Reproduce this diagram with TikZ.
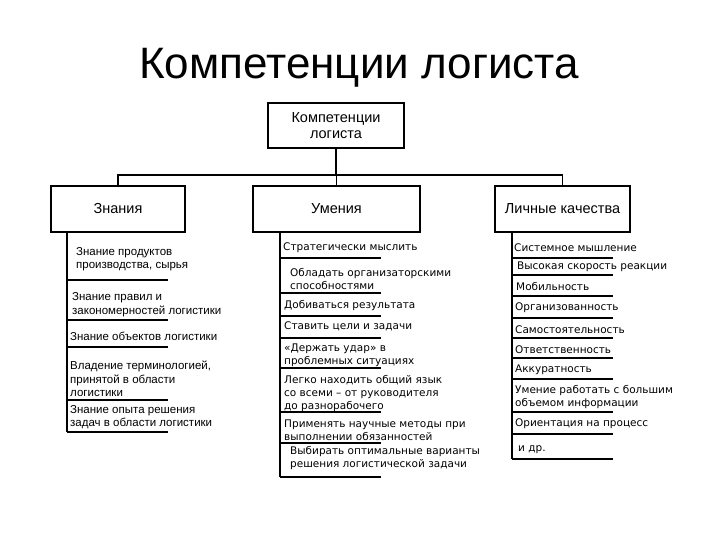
\documentclass[tikz,border=0pt]{standalone}
\usepackage{fontspec}
\setmainfont{Liberation Sans}
\newfontfamily\listfont{DejaVu Sans}
\begin{document}
\begin{tikzpicture}[x=1pt,y=-1pt,
 box/.style={draw,line width=1.4pt,inner sep=0pt,align=center,font=\fontsize{14.5}{16}\selectfont},
 link/.style={line width=1.1pt},
 item/.style={anchor=west,inner sep=0pt,align=left,font=\fontsize{11.5}{13.6}\selectfont},
 skillitem/.style={anchor=west,inner sep=0pt,align=left,font=\listfont\fontsize{10.5}{13}\selectfont},
 uline/.style={line width=1.2pt}]
 \useasboundingbox (0,0) rectangle (720,540);
 \node[font=\fontsize{44}{48}\selectfont] (title) at (359,68) {Компетенции логиста};
 % tree
 \node[box,minimum width=136pt,minimum height=45pt] (top) at (336,125.5) {Компетенции\\логиста};
 \node[box,minimum width=134pt,minimum height=46pt] (know) at (118,209) {Знания};
 \node[box,minimum width=167pt,minimum height=46pt] (skill) at (336.5,209) {Умения};
 \node[box,minimum width=135pt,minimum height=46pt] (pers) at (562.5,209) {Личные качества};
 \coordinate (bus) at (336,175);
 \draw[link] (top.south) -- (bus);
 \foreach \b in {know,skill,pers}{\draw[link] (bus) -| (\b.north);}
 % knowledge
 \draw[uline] (67,232) -- (67,432);
 \foreach \x/\y/\t [count=\i] in {76/259/{Знание продуктов\\производства, сырья},
   72/304.5/{Знание правил и\\закономерностей логистики},
   70/336/{Знание объектов логистики},
   70/379/{Владение терминологией,\\принятой в области\\логистики},
   70/417/{Знание опыта решения\\задач в области логистики}}
  {\node[item] (k\i) at (\x,\y) {\t};}
 \foreach \y in {280,320,347,400,432}{\draw[uline] (67,\y) -- (168,\y);}
 % skills
 \draw[uline] (280,232) -- (280,477);
 \foreach \x/\y/\t [count=\i] in {283/248/{Стратегически мыслить},
   290/278.5/{Обладать организаторскими\\способностями},
   284/306/{Добиваться результата},
   284/326/{Ставить цели и задачи},
   284/355.5/{«Держать удар» в\\проблемных ситуациях},
   284/394/{Легко находить общий язык\\со всеми – от руководителя\\до разнорабочего},
   284/430.5/{Применять научные методы при\\выполнении обязанностей},
   290/458.5/{Выбирать оптимальные варианты\\решения логистической задачи}}
  {\node[skillitem] (s\i) at (\x,\y) {\t};}
 \foreach \y in {258,293,316,338,368,412,443,477}{\draw[uline] (280,\y) -- (381,\y);}
 % personal qualities
 \draw[uline] (512,232) -- (512,459);
 \foreach \x/\y/\t [count=\i] in {514/248/{Системное мышление},
   517/267/{Высокая скорость реакции},
   516/286/{Мобильность},
   515/308/{Организованность},
   515/330/{Самостоятельность},
   515/350/{Ответственность},
   515/370/{Аккуратность},
   515/397.5/{Умение работать с большим\\объемом информации},
   515/424/{Ориентация на процесс},
   518/450/{и др.}}
  {\node[skillitem] (p\i) at (\x,\y) {\t};}
 \foreach \y in {258,275,296,318,338,358,379,412,434,459}{\draw[uline] (512,\y) -- (613,\y);}
\end{tikzpicture}
\end{document}
